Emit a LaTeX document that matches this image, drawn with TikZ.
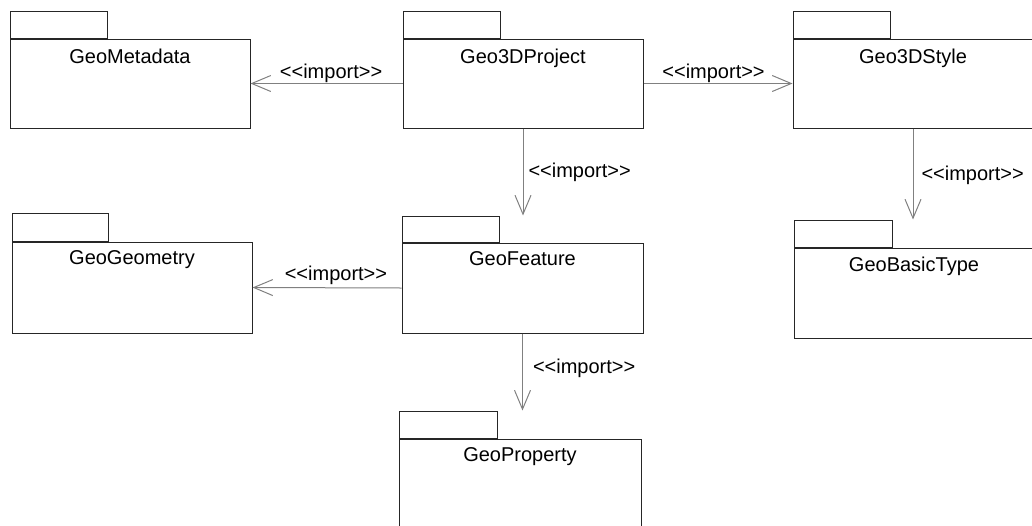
\documentclass[tikz,border=0pt]{standalone}
\usepackage{fontspec}
\setmainfont{Liberation Sans}[Ligatures=TeXOff]
\usetikzlibrary{arrows.meta}
\tikzset{
  pkgbody/.style={draw=black!85, line width=1pt, minimum width=240pt, minimum height=90pt, inner sep=0pt, fill=white},
  pkgtab/.style={draw=black!85, line width=1pt, minimum width=97pt, minimum height=27pt, inner sep=0pt, anchor=south west},
  pkgtitle/.style={anchor=north, inner sep=0pt, yshift=-9pt, font=\fontsize{20}{24}\selectfont},
  imp/.style={draw=black!50, line width=1pt, -{Straight Barb[length=19pt,width=16pt,line width=1pt]}},
  implabel/.style={inner sep=0pt, font=\fontsize{20}{24}\selectfont},
}
\begin{document}
\begin{tikzpicture}[x=1pt,y=-1pt]
\useasboundingbox (0,0) rectangle (1032,525);
\clip (0,0) rectangle (1032,525);
% packages
\node[pkgbody, minimum height=89pt] (meta) at (130,83.5) {};
\node[pkgtab] (metatab) at (meta.north west) {};
\node[pkgtitle] (metat) at ([yshift=-1pt]meta.north) {GeoMetadata};

\node[pkgbody, minimum height=89pt] (proj) at (523,83.5) {};
\node[pkgtab] (projtab) at (proj.north west) {};
\node[pkgtitle] (projt) at ([yshift=-1pt]proj.north) {Geo3DProject};

\node[pkgbody, minimum height=89pt] (style) at (913,83.5) {};
\node[pkgtab] (styletab) at (style.north west) {};
\node[pkgtitle] (stylet) at ([yshift=-1pt]style.north) {Geo3DStyle};

\node[pkgbody, minimum height=91pt] (geom) at (132,287.5) {};
\node[pkgtab, minimum height=28pt, minimum width=96pt] (geomtab) at (geom.north west) {};
\node[pkgtitle] (geomt) at (geom.north) {GeoGeometry};

\node[pkgbody, minimum width=241pt] (feat) at (522.5,288) {};
\node[pkgtab, minimum height=26pt] (feattab) at (feat.north west) {};
\node[pkgtitle] (featt) at (feat.north) {GeoFeature};

\node[pkgbody] (basic) at (914,293) {};
\node[pkgtab, minimum width=98pt] (basictab) at (basic.north west) {};
\node[pkgtitle] (basict) at (basic.north) {GeoBasicType};

\node[pkgbody, minimum width=242pt] (prop) at (520,484) {};
\node[pkgtab, minimum width=98pt] (proptab) at (prop.north west) {};
\node[pkgtitle] (propt) at (prop.north) {GeoProperty};

% connectors
\draw[imp] (proj.west) -- node[implabel, pos=0.47, anchor=base, yshift=5pt] {<<import>>} (meta.east);
\draw[imp] (proj.east) -- node[implabel, pos=0.47, anchor=base, yshift=5pt] {<<import>>} (style.west);
\draw[imp] (feat.west) -- node[implabel, pos=0.44, anchor=base, yshift=7pt] {<<import>>} (geom.east);
\draw[imp] (proj.south) -- node[implabel, pos=0.5, anchor=west, xshift=5pt] {<<import>>} (proj.south |- feattab.north);
\draw[imp] (style.south) -- node[implabel, pos=0.52, anchor=west, xshift=8pt] {<<import>>} (style.south |- basictab.north);
\draw[imp] (feat.south) -- node[implabel, pos=0.45, anchor=west, xshift=10pt] {<<import>>} (feat.south |- proptab.north);
\end{tikzpicture}
\end{document}
